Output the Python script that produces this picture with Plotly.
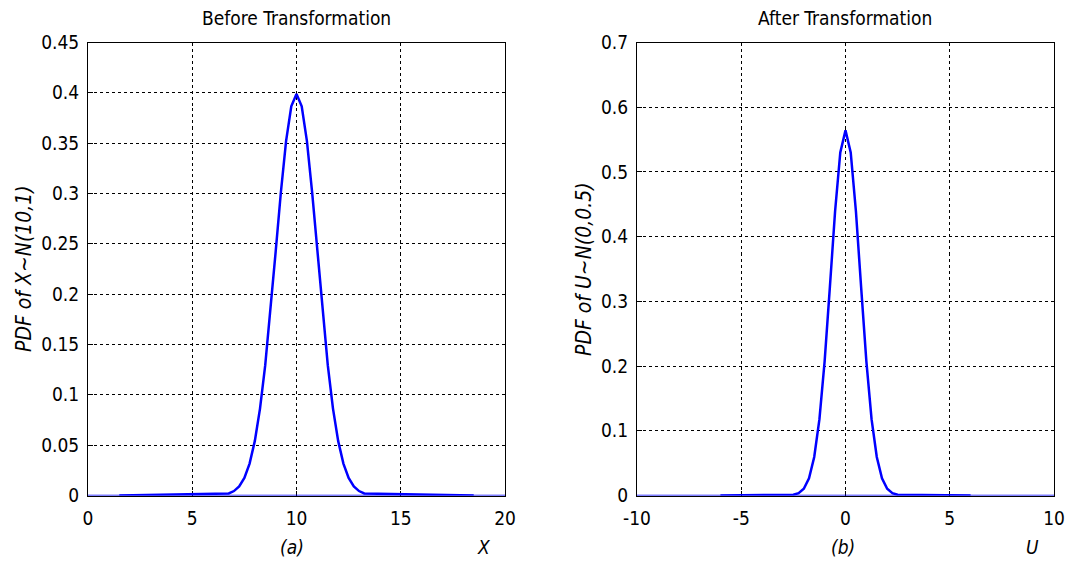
import plotly.graph_objects as go

# ---- data ----
x_left = [1.5, 6.75, 7.0, 7.25, 7.5, 7.75, 8.0, 8.25, 8.5, 8.75, 9.0, 9.25, 9.5, 9.75, 10.0,
          10.25, 10.5, 10.75, 11.0, 11.25, 11.5, 11.75, 12.0, 12.25, 12.5, 12.75, 13.0, 13.25, 18.5]
pdf_left = [0.0, 0.002, 0.0044, 0.0091, 0.0175, 0.0317, 0.054, 0.0863, 0.1295, 0.1826, 0.242, 0.301, 0.352, 0.3867, 0.3989,
            0.3867, 0.352, 0.301, 0.242, 0.1826, 0.1295, 0.0863, 0.054, 0.0317, 0.0175, 0.0091, 0.0044, 0.002, 0.0]

x_right = [-6.0, -2.5, -2.25, -2.0, -1.75, -1.5, -1.25, -1.0, -0.75, -0.5, -0.25, 0.0,
           0.25, 0.5, 0.75, 1.0, 1.25, 1.5, 1.75, 2.0, 2.25, 2.5, 6.0]
pdf_right = [0.0, 0.0011, 0.0036, 0.0103, 0.0264, 0.0595, 0.118, 0.2076, 0.3215, 0.439, 0.530, 0.5642,
             0.530, 0.439, 0.3215, 0.2076, 0.118, 0.0595, 0.0264, 0.0103, 0.0036, 0.0011, 0.0]

base_left_x = [0, 20]
base_right_x = [-10, 10]
base_y = [0, 0]

xticks_left = [0, 5, 10, 15, 20]
yticks_left = [0, 0.05, 0.1, 0.15, 0.2, 0.25, 0.3, 0.35, 0.4, 0.45]
xticks_right = [-10, -5, 0, 5, 10]
yticks_right = [0, 0.1, 0.2, 0.3, 0.4, 0.5, 0.6, 0.7]

FONT = "DejaVu Sans Condensed, Liberation Sans Narrow, Arial Narrow, sans-serif"
BLUE = "#0000ff"

fig = go.Figure()
fig.add_trace(go.Scatter(x=base_left_x, y=base_y, mode="lines", line=dict(color=BLUE, width=1.5),
                         xaxis="x", yaxis="y", hoverinfo="skip", cliponaxis=False))
fig.add_trace(go.Scatter(x=x_left, y=pdf_left, mode="lines", line=dict(color=BLUE, width=2.5),
                         xaxis="x", yaxis="y", cliponaxis=False))
fig.add_trace(go.Scatter(x=base_right_x, y=base_y, mode="lines", line=dict(color=BLUE, width=1.5),
                         xaxis="x2", yaxis="y2", hoverinfo="skip", cliponaxis=False))
fig.add_trace(go.Scatter(x=x_right, y=pdf_right, mode="lines", line=dict(color=BLUE, width=2.5),
                         xaxis="x2", yaxis="y2", cliponaxis=False))

# body margin is removed by the post script, so the figure fills the window exactly
W, H = 1068, 565

def px(x):
    return x / W

def py(y):
    return 1 - y / H

ydom = [py(495.5), py(42.5)]

axis_common = dict(
    showline=True, linecolor="black", linewidth=1, mirror=True,
    showgrid=True, gridcolor="black", gridwidth=1, griddash="3px,3px",
    ticks="inside", ticklen=5, tickcolor="black", zeroline=False,
    tickfont=dict(family=FONT, size=19, color="black"),
    automargin=False, layer="below traces", ticklabeloverflow="allow",
)

fig.update_layout(
    width=W, height=H,
    margin=dict(l=0, r=0, t=0, b=0),
    paper_bgcolor="white", plot_bgcolor="white",
    showlegend=False,
    xaxis=dict(domain=[px(88), px(505)], range=[0, 20], tickvals=xticks_left,
               ticktext=[str(v) for v in xticks_left], anchor="y", ticklabelstandoff=6, **axis_common),
    yaxis=dict(domain=ydom, range=[0, 0.45], tickvals=yticks_left,
               ticktext=[f"{v:g}" for v in yticks_left], anchor="x", ticklabelstandoff=4, **axis_common),
    xaxis2=dict(domain=[px(637), px(1054)], range=[-10, 10], tickvals=xticks_right,
                ticktext=[str(v) for v in xticks_right], anchor="y2", ticklabelstandoff=6, **axis_common),
    yaxis2=dict(domain=ydom, range=[0, 0.7], tickvals=yticks_right,
                ticktext=[f"{v:g}" for v in yticks_right], anchor="x2", ticklabelstandoff=4, **axis_common),
)

def ann(text, x, y, size=19, italic=False, angle=0):
    t = f"<i>{text}</i>" if italic else text
    fig.add_annotation(text=t, x=px(x), y=py(y), xref="paper", yref="paper",
                       showarrow=False, textangle=angle, xanchor="center", yanchor="middle",
                       font=dict(family=FONT, size=size, color="black"))

ann("Before Transformation", 296, 18)
ann("After Transformation", 845, 18)
ann("(a)", 292, 547, italic=True)
ann("X", 484, 547, italic=True)
ann("(b)", 843, 547, italic=True)
ann("U", 1032, 547, italic=True)
ann("PDF of X~N(10,1)", 24, 269, size=21, italic=True, angle=-90)
ann("PDF of U~N(0,0.5)", 584, 269, size=21, italic=True, angle=-90)

fig.write_html(
    "out.html",
    config={"displayModeBar": False},
    post_script="document.body.style.margin='0';document.body.style.overflow='hidden';",
)
